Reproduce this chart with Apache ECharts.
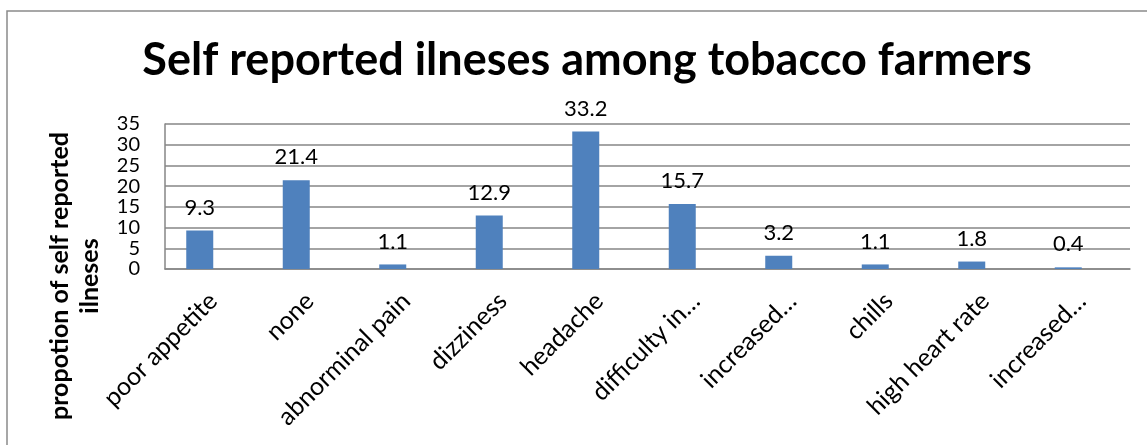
<!DOCTYPE html>
<html>
<head>
<meta charset="utf-8">
<script src="https://cdn.jsdelivr.net/npm/echarts@6/dist/echarts.min.js"></script>
<style>
  html, body { margin: 0; padding: 0; background: #fff; }
  #chart { width: 1147px; height: 445px; }
</style>
</head>
<body>
<div id="chart"></div>
<script>
  // values
  var categories = ['poor appetite', 'none', 'abnorminal pain', 'dizziness', 'headache',
    'difficulty in…', 'increased…', 'chills', 'high heart rate', 'increased…']
  var illnessValues = [9.3, 21.4, 1.1, 12.9, 33.2, 15.7, 3.2, 1.1, 1.8, 0.4]
  // the source chart has a second, empty series that shifts the bars left of the ticks
  var emptyValues = [null, null, null, null, null, null, null, null, null, null]
  var yTicks = { min: 0, max: 35, interval: 5 }

  var font = 'Lato'
  var myChart = echarts.init(document.getElementById('chart'))

  var option = {
    animation: false,
    textStyle: { fontFamily: font, color: '#000' },
    title: {
      text: 'Self reported ilneses among tobacco farmers',
      left: 582,
      top: 33,
      textAlign: 'center',
      textStyle: { fontFamily: font, fontSize: 45, fontWeight: 'bold', color: '#000' }
    },
    grid: { left: 165, top: 124, right: 17, bottom: 176 },
    xAxis: {
      type: 'category',
      data: categories,
      axisLine: { lineStyle: { color: '#868686', width: 1.5 } },
      axisTick: { show: false },
      axisLabel: {
        rotate: 45, margin: 28, fontSize: 25, color: '#000', fontFamily: font, interval: 0
      }
    },
    yAxis: {
      type: 'value',
      min: yTicks.min,
      max: yTicks.max,
      interval: yTicks.interval,
      axisLine: { show: true, lineStyle: { color: '#868686', width: 1.5 } },
      axisTick: { show: false },
      axisLabel: {
        margin: 25, fontSize: 20, color: '#000', fontFamily: font,
        hideOverlap: false, showMinLabel: true, showMaxLabel: true
      },
      splitLine: { lineStyle: { color: '#868686', width: 1.5 } }
    },
    graphic: [
      {
        type: 'rect',
        shape: { x: 7, y: 11, width: 1400, height: 700 },
        style: { fill: 'none', stroke: '#8a8a8a', lineWidth: 1.5 },
        silent: true
      },
      {
        type: 'text',
        x: 75,
        y: 276,
        rotation: Math.PI / 2,
        style: {
          text: 'propotion of self reported\nilneses',
          fontFamily: font,
          fontSize: 25,
          fontWeight: 'bold',
          fill: '#000',
          align: 'center',
          verticalAlign: 'middle',
          lineHeight: 30
        }
      }
    ],
    series: [
      {
        name: 'illnesses',
        type: 'bar',
        data: illnessValues,
        barWidth: 27,
        barGap: '0%',
        itemStyle: { color: '#4f81bd' },
        label: { show: true, position: 'top', distance: 12, fontSize: 22, color: '#000', fontFamily: font }
      },
      {
        name: 'empty',
        type: 'bar',
        data: emptyValues,
        barWidth: 27,
        barGap: '0%',
        itemStyle: { color: '#c0504d' }
      }
    ]
  }
  myChart.setOption(option)
</script>
</body>
</html>
